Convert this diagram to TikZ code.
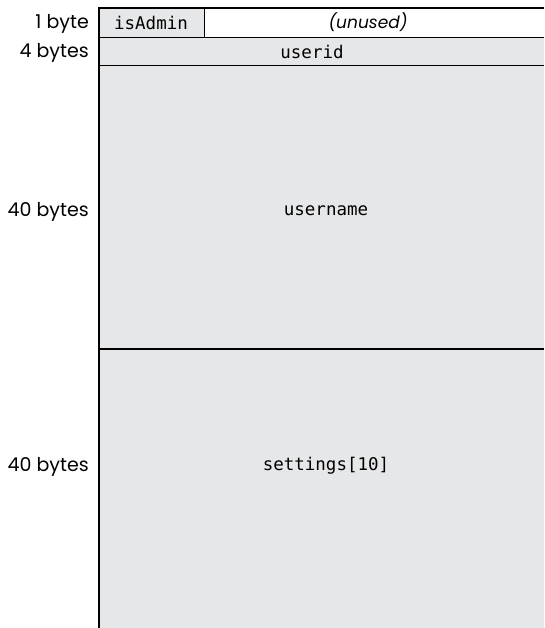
\documentclass[tikz,border=0pt]{standalone}
\usepackage{fontspec}
\setmainfont{Poppins}
\setmonofont{DejaVu Sans Mono}
\usetikzlibrary{positioning}
\definecolor{champgris}{HTML}{E6E7E8}

\begin{document}
\begin{tikzpicture}[x=1pt, y=1pt,
  every node/.style={font=\fontsize{19}{22}\selectfont, inner sep=0pt},
  taille/.style={anchor=east},
  champ/.style={font=\fontsize{17.5}{20}\selectfont\ttfamily}]
  \useasboundingbox (0,0) rectangle (544,-628);

  % Bornes de la structure
  \pgfmathsetmacro{\xg}{99}
  \pgfmathsetmacro{\xd}{544}
  \pgfmathsetmacro{\xa}{204}

  % Fond des champs
  \fill[champgris] (\xg,-8) rectangle (\xa,-37);
  \fill[champgris] (\xg,-37) rectangle (\xd,-628);

  % Traits
  \draw[line width=1.2pt] (\xg,-628) -- (\xg,-8) -- (\xd,-8);
  \draw[line width=0.8pt] (\xa,-8) -- (\xa,-37);
  \draw[line width=0.8pt] (\xg,-37) -- (\xd,-37);
  \draw[line width=0.8pt] (\xg,-65) -- (\xd,-65);
  \draw[line width=1.2pt] (\xg,-349) -- (\xd,-349);

  % Champs
  \node[champ] (isadmin) at (151,-23) {isAdmin};
  \node[font=\fontsize{17}{20}\selectfont\itshape] (unused) at (368,-22) {(unused)};
  \node[champ] (userid) at (312,-52) {userid};
  \node[champ] (username) at (326,-211) {username};
  \node[champ] (settings) at (326,-466) {settings[10]};

  % Tailles
  \node[taille] (t1) at (89,-24) {1 byte};
  \node[taille] (t4) at (89,-53) {4 bytes};
  \node[taille] (t40a) at (89,-212) {40 bytes};
  \node[taille] (t40b) at (89,-467) {40 bytes};

\end{tikzpicture}
\end{document}
